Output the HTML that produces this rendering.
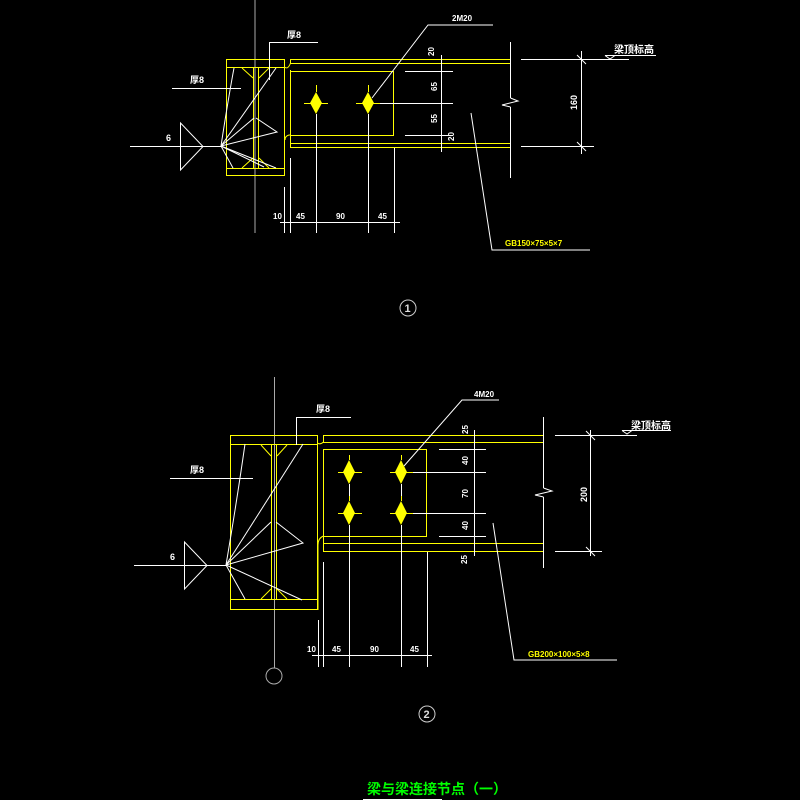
<!DOCTYPE html>
<html><head><meta charset="utf-8"><style>
html,body{margin:0;padding:0;background:#000;}
svg{display:block;}
text{font-family:"Liberation Sans","Noto Sans CJK SC",sans-serif;font-weight:bold;}
</style></head><body>
<svg width="800" height="800" viewBox="0 0 800 800" xmlns="http://www.w3.org/2000/svg">
<rect width="800" height="800" fill="#000"/>

<!-- ================= DIAGRAM 1 ================= -->
<g fill="none" stroke-width="1">
<line x1="255" y1="0" x2="255" y2="233" stroke="#aaa"/>
<!-- column -->
<g stroke="#ff0">
<rect x="226.5" y="59.5" width="58" height="116"/>
<line x1="226" y1="67.5" x2="285" y2="67.5"/>
<line x1="226" y1="168.5" x2="285" y2="168.5"/>
<line x1="253.5" y1="67" x2="253.5" y2="168"/>
<line x1="258.5" y1="67" x2="258.5" y2="168"/>
<line x1="242" y1="68" x2="253" y2="78"/><line x1="269" y1="68" x2="259" y2="78"/>
<line x1="242" y1="168" x2="253" y2="158"/><line x1="269" y1="168" x2="259" y2="158"/>
<!-- beam -->
<line x1="290" y1="59.5" x2="510" y2="59.5"/>
<line x1="290" y1="63.5" x2="510" y2="63.5"/>
<line x1="290" y1="143.5" x2="510" y2="143.5"/>
<line x1="290" y1="147.5" x2="510" y2="147.5"/>
<path d="M290.5 59 V63 Q288 70 284.5 67"/>
<path d="M290.5 70 V72"/>
<line x1="290.5" y1="73" x2="290.5" y2="135" stroke-dasharray="10,10"/>
<path d="M290.5 135 H289 Q285 136 285 140"/>
<line x1="290.5" y1="135" x2="290.5" y2="148"/>
<rect x="290.5" y="71.5" width="103" height="64"/>
</g>
<!-- bolts 1 -->
<g fill="#ff0" stroke="none">
<polygon points="316,92 322,103 316,114 310,103"/>
<polygon points="368,92 374,103 368,114 362,103"/>
</g>
<g stroke="#ff0">
<line x1="304" y1="103.5" x2="328" y2="103.5"/>
<line x1="356" y1="103.5" x2="380" y2="103.5"/>
<line x1="316.5" y1="85" x2="316.5" y2="92"/>
<line x1="368.5" y1="85" x2="368.5" y2="92"/>
</g>
<g stroke="#fff">
<line x1="380" y1="103.5" x2="453" y2="103.5"/>
<line x1="405" y1="71.5" x2="453" y2="71.5"/>
<line x1="405" y1="135.5" x2="453" y2="135.5"/>
<line x1="441.5" y1="55" x2="441.5" y2="152"/>
<line x1="316.5" y1="114" x2="316.5" y2="233"/>
<line x1="368.5" y1="114" x2="368.5" y2="233"/>
<line x1="394.5" y1="148" x2="394.5" y2="233"/>
<line x1="290.5" y1="158" x2="290.5" y2="233"/>
<line x1="284.5" y1="187" x2="284.5" y2="233"/>
<line x1="280" y1="222.5" x2="400" y2="222.5"/>
<!-- leader 2M20 -->
<polyline points="372,98 428,25 493,25"/>
<!-- 厚8 top -->
<polyline points="269.5,80 269.5,42.5 318,42.5"/>
<line x1="172" y1="88.5" x2="241" y2="88.5"/>
<!-- weld -->
<line x1="130" y1="146.5" x2="221" y2="146.5"/>
<polygon points="180.5,123 203,146.5 180.5,170"/>
<!-- fan -->
<path d="M221 146 Q228 100 234 68"/>
<line x1="221" y1="146" x2="276" y2="68"/>
<line x1="221" y1="146" x2="254" y2="118"/>
<polyline points="256,118 277,132 221,146"/>
<line x1="221" y1="146" x2="276" y2="168"/>
<line x1="221" y1="146" x2="264" y2="167"/>
<line x1="221" y1="146" x2="233" y2="168"/>
<!-- beam end / break -->
<line x1="510.5" y1="42" x2="510.5" y2="98"/>
<polyline points="510.5,98 518,101 502,105 510.5,107"/>
<line x1="510.5" y1="107" x2="510.5" y2="178"/>
<!-- right dim -->
<line x1="521" y1="59.5" x2="629" y2="59.5"/>
<line x1="521" y1="146.5" x2="594" y2="146.5"/>
<line x1="581.5" y1="51" x2="581.5" y2="154"/>
<line x1="577" y1="55" x2="586" y2="64"/>
<line x1="577" y1="142" x2="586" y2="151"/>
<line x1="605" y1="55.5" x2="656" y2="55.5"/>
<polyline points="605,55.5 610,59 615,55.5"/>
<!-- leader GB -->
<polyline points="471,113 492,250 590,250"/>
</g>
<g fill="#fff" font-size="9">
<text x="452" y="21" font-size="8">2M20</text>
<text x="287" y="38">厚8</text>
<text x="190" y="83">厚8</text>
<text x="166" y="141">6</text>
<text x="273" y="219" font-size="8">10</text>
<text x="296" y="219" font-size="8">45</text>
<text x="336" y="219" font-size="8">90</text>
<text x="378" y="219" font-size="8">45</text>
<text transform="translate(434,56) rotate(-90)" font-size="8">20</text>
<text transform="translate(437,91) rotate(-90)" font-size="8">65</text>
<text transform="translate(437,123) rotate(-90)" font-size="8">55</text>
<text transform="translate(454,141) rotate(-90)" font-size="8">20</text>
<text transform="translate(577,110) rotate(-90)" font-size="9">160</text>
<text x="614" y="53" font-size="10">梁顶标高</text>
</g>
<text x="505" y="246" fill="#ff0" font-size="8">GB150×75×5×7</text>
<circle cx="408" cy="308" r="8" fill="none" stroke="#ccc"/>
<text x="404.5" y="312" fill="#ddd" font-size="11" font-weight="normal">1</text>

<!-- ================= DIAGRAM 2 ================= -->
<line x1="274.5" y1="377" x2="274.5" y2="668" stroke="#aaa"/>
<circle cx="274" cy="676" r="8" stroke="#aaa"/>
<g stroke="#ff0">
<rect x="230.5" y="435.5" width="87" height="174"/>
<line x1="230" y1="444.5" x2="318" y2="444.5"/>
<line x1="230" y1="599.5" x2="318" y2="599.5"/>
<line x1="271.5" y1="444" x2="271.5" y2="599"/>
<line x1="276.5" y1="444" x2="276.5" y2="599"/>
<line x1="261" y1="445" x2="271" y2="456"/><line x1="287" y1="445" x2="277" y2="456"/>
<line x1="261" y1="599" x2="271" y2="589"/><line x1="287" y1="599" x2="277" y2="589"/>
<line x1="323" y1="435.5" x2="543" y2="435.5"/>
<line x1="323" y1="442.5" x2="543" y2="442.5"/>
<line x1="323" y1="543.5" x2="543" y2="543.5"/>
<line x1="323" y1="551.5" x2="543" y2="551.5"/>
<path d="M323.5 435 V442 Q320 445 317.5 443"/>
<line x1="323.5" y1="449" x2="323.5" y2="536" stroke-dasharray="10,10"/>
<path d="M323.5 536 Q318 538 318 545 V610"/>
<line x1="323.5" y1="536" x2="323.5" y2="552"/>
<rect x="323.5" y="449.5" width="103" height="87"/>
</g>
<g fill="#ff0" stroke="none">
<polygon points="349,460 355,472 349,484 343,472"/>
<polygon points="401,460 407,472 401,484 395,472"/>
<polygon points="349,501 355,513 349,525 343,513"/>
<polygon points="401,501 407,513 401,525 395,513"/>
</g>
<g stroke="#ff0">
<line x1="338" y1="472.5" x2="362" y2="472.5"/><line x1="390" y1="472.5" x2="413" y2="472.5"/>
<line x1="338" y1="513.5" x2="362" y2="513.5"/><line x1="390" y1="513.5" x2="413" y2="513.5"/>
<line x1="349.5" y1="455" x2="349.5" y2="460"/><line x1="401.5" y1="455" x2="401.5" y2="460"/>
<line x1="349.5" y1="496" x2="349.5" y2="501"/><line x1="401.5" y1="496" x2="401.5" y2="501"/>
</g>
<g stroke="#fff">
<line x1="349.5" y1="484" x2="349.5" y2="496"/><line x1="401.5" y1="484" x2="401.5" y2="496"/>
<line x1="413" y1="472.5" x2="486" y2="472.5"/>
<line x1="413" y1="513.5" x2="486" y2="513.5"/>
<line x1="439" y1="449.5" x2="486" y2="449.5"/>
<line x1="439" y1="536.5" x2="486" y2="536.5"/>
<line x1="474.5" y1="430" x2="474.5" y2="556"/>
<line x1="349.5" y1="525" x2="349.5" y2="667"/>
<line x1="401.5" y1="525" x2="401.5" y2="667"/>
<line x1="427.5" y1="552" x2="427.5" y2="667"/>
<line x1="323.5" y1="562" x2="323.5" y2="667"/>
<line x1="318.5" y1="620" x2="318.5" y2="667"/>
<line x1="312" y1="655.5" x2="432" y2="655.5"/>
<polyline points="404,466 462,400 499,400"/>
<polyline points="296.5,445 296.5,417.5 351,417.5"/>
<line x1="170" y1="478.5" x2="253" y2="478.5"/>
<line x1="134" y1="565.5" x2="226" y2="565.5"/>
<polygon points="184.5,542 207,565.5 184.5,589"/>
<path d="M226 565 Q237 500 245 444"/>
<line x1="226" y1="565" x2="303" y2="444"/>
<line x1="226" y1="565" x2="271" y2="522"/>
<polyline points="276,522 303,543 226,565"/>
<line x1="226" y1="565" x2="302" y2="600"/>
<line x1="226" y1="565" x2="245" y2="599"/>
<line x1="543.5" y1="417" x2="543.5" y2="488"/>
<polyline points="543.5,488 552,491 535,495 543.5,497"/>
<line x1="543.5" y1="497" x2="543.5" y2="568"/>
<line x1="555" y1="435.5" x2="637" y2="435.5"/>
<line x1="555" y1="551.5" x2="602" y2="551.5"/>
<line x1="590.5" y1="430" x2="590.5" y2="556"/>
<line x1="586" y1="431" x2="595" y2="440"/>
<line x1="586" y1="547" x2="595" y2="556"/>
<line x1="622" y1="430.5" x2="671" y2="430.5"/>
<polyline points="622,430.5 627,434 632,430.5"/>
<polyline points="493,523 514,660 617,660"/>
</g>
<g fill="#fff" font-size="9">
<text x="474" y="397" font-size="8">4M20</text>
<text x="316" y="412">厚8</text>
<text x="190" y="473">厚8</text>
<text x="170" y="560">6</text>
<text x="307" y="652" font-size="8">10</text>
<text x="332" y="652" font-size="8">45</text>
<text x="370" y="652" font-size="8">90</text>
<text x="410" y="652" font-size="8">45</text>
<text transform="translate(468,434) rotate(-90)" font-size="8">25</text>
<text transform="translate(468,465) rotate(-90)" font-size="8">40</text>
<text transform="translate(468,498) rotate(-90)" font-size="8">70</text>
<text transform="translate(468,530) rotate(-90)" font-size="8">40</text>
<text transform="translate(467,564) rotate(-90)" font-size="8">25</text>
<text transform="translate(587,502) rotate(-90)" font-size="9">200</text>
<text x="631" y="429" font-size="10">梁顶标高</text>
</g>
<text x="528" y="657" fill="#ff0" font-size="8">GB200×100×5×8</text>
<circle cx="427" cy="714" r="8" fill="none" stroke="#ccc"/>
<text x="423.5" y="718" fill="#ddd" font-size="11" font-weight="normal">2</text>

<!-- title -->
<text x="367" y="794" fill="#0f0" font-size="14">梁与梁连接节点（一）</text>
<line x1="363" y1="799.5" x2="442" y2="799.5" stroke="#fff"/>
</g>
</svg>
</body></html>
